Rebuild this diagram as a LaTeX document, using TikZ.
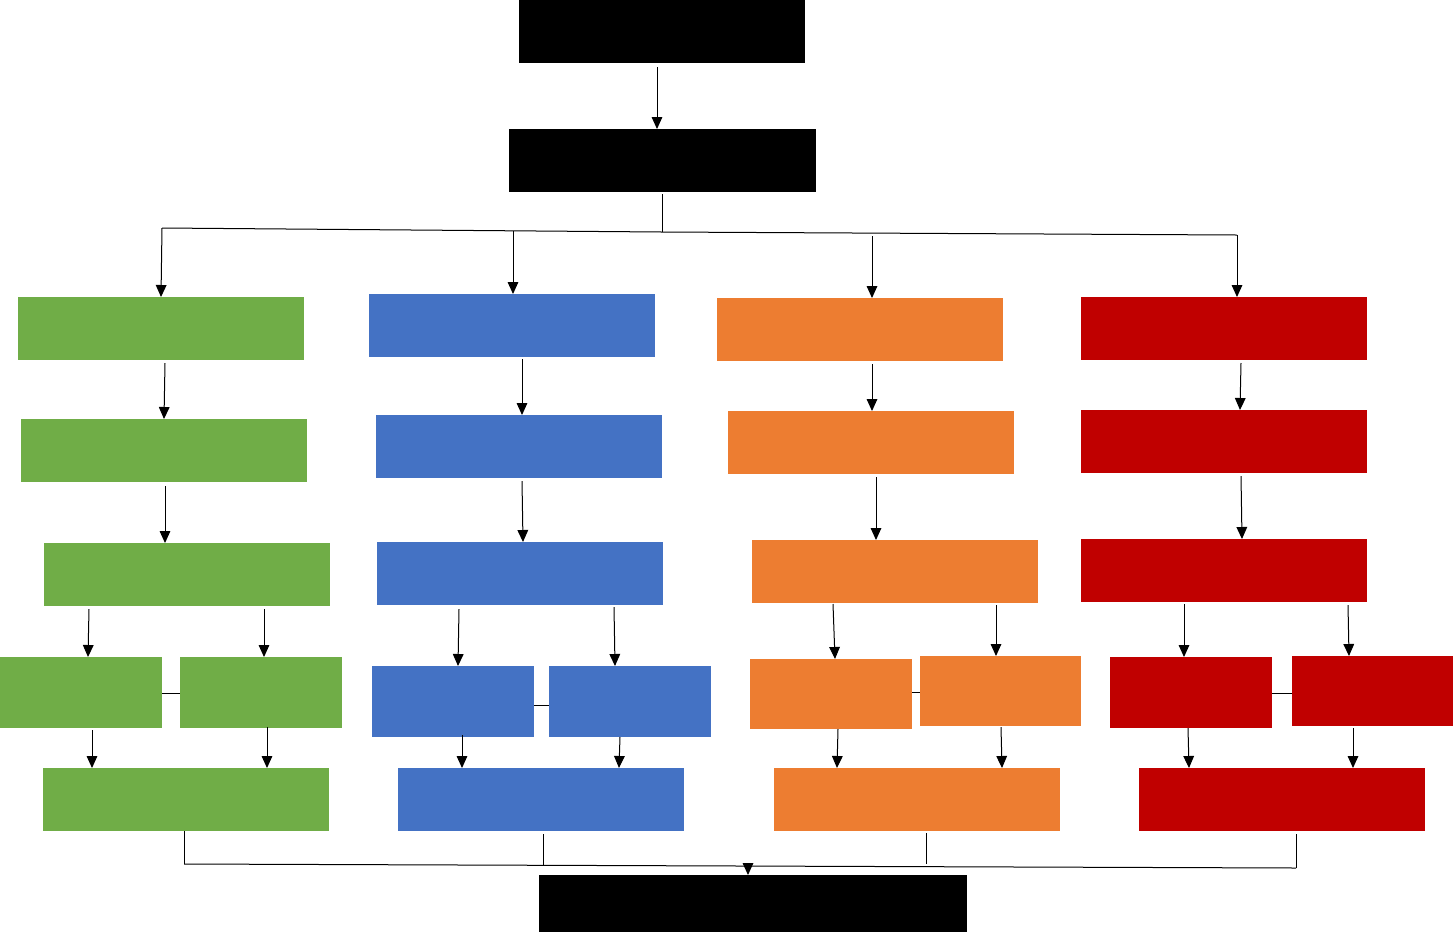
\documentclass[tikz,border=0pt]{standalone}
\usetikzlibrary{arrows.meta,fit}
\definecolor{cgreen}{RGB}{112,173,71}
\definecolor{cblue}{RGB}{68,114,196}
\definecolor{corange}{RGB}{237,125,49}
\definecolor{cred}{RGB}{192,0,0}
\tikzset{
  box/.style={inner sep=0pt, outer sep=0pt, draw=none},
  kbox/.style={box, fill=black},
  gbox/.style={box, fill=cgreen},
  bbox/.style={box, fill=cblue},
  obox/.style={box, fill=corange},
  rbox/.style={box, fill=cred},
  arr/.style={line width=0.75pt, -{Triangle[width=8pt,length=9pt]}},
  ln/.style={line width=0.75pt}
}
\begin{document}
\begin{tikzpicture}[x=0.75pt,y=-0.75pt]
\useasboundingbox (0,0) rectangle (1453,933);
% black
\node[kbox, fit={(519,0) (805,63)}] (k1) {};
\node[kbox, fit={(509,129) (816,192)}] (k2) {};
\node[kbox, fit={(539,875) (967,932)}] (k3) {};
% green
\node[gbox, fit={(18,297) (304,360)}] (g1) {};
\node[gbox, fit={(21,419) (307,482)}] (g2) {};
\node[gbox, fit={(44,543) (330,606)}] (g3) {};
\node[gbox, fit={(0,657) (162,728)}] (g4a) {};
\node[gbox, fit={(180,657) (342,728)}] (g4b) {};
\node[gbox, fit={(43,768) (329,831)}] (g5) {};
% blue
\node[bbox, fit={(369,294) (655,357)}] (b1) {};
\node[bbox, fit={(376,415) (662,478)}] (b2) {};
\node[bbox, fit={(377,542) (663,605)}] (b3) {};
\node[bbox, fit={(372,666) (534,737)}] (b4a) {};
\node[bbox, fit={(549,666) (711,737)}] (b4b) {};
\node[bbox, fit={(398,768) (684,831)}] (b5) {};
% orange
\node[obox, fit={(717,298) (1003,361)}] (o1) {};
\node[obox, fit={(728,411) (1014,474)}] (o2) {};
\node[obox, fit={(752,540) (1038,603)}] (o3) {};
\node[obox, fit={(750,659) (912,729)}] (o4a) {};
\node[obox, fit={(920,656) (1081,726)}] (o4b) {};
\node[obox, fit={(774,768) (1060,831)}] (o5) {};
% red
\node[rbox, fit={(1081,297) (1367,360)}] (r1) {};
\node[rbox, fit={(1081,410) (1367,473)}] (r2) {};
\node[rbox, fit={(1081,539) (1367,602)}] (r3) {};
\node[rbox, fit={(1110,657) (1272,728)}] (r4a) {};
\node[rbox, fit={(1292,656) (1453,726)}] (r4b) {};
\node[rbox, fit={(1139,768) (1425,831)}] (r5) {};

% top
\draw[arr] (657,67) -- (657,0 |- k2.north);
\draw[ln] (662,194) -- (662,232);
\coordinate (hl) at (162,228);
\coordinate (hr) at (1237,235);
\draw[ln] (hl) -- (662,232) -- (hr);
\draw[arr] (hl) -- (161,0 |- g1.north);
\draw[arr] (513,231) -- (513,0 |- b1.north);
\draw[arr] (872,236) -- (872,0 |- o1.north);
\draw[arr] (hr) -- (1237,0 |- r1.north);

% green arrows
\draw[arr] (165,363) -- (164,0 |- g2.north);
\draw[arr] (165,486) -- (165,0 |- g3.north);
\draw[arr] (89,609) -- (88,0 |- g4a.north);
\draw[arr] (264,609) -- (264,0 |- g4b.north);
\draw[arr] (92,730) -- (92,0 |- g5.north);
\draw[arr] (267,727) -- (267,0 |- g5.north);
\draw[ln] (g4a.east |- 0,693) -- (g4b.west |- 0,693);

% blue arrows
\draw[arr] (522,359) -- (522,0 |- b2.north);
\draw[arr] (522,481) -- (523,0 |- b3.north);
\draw[arr] (459,609) -- (458,0 |- b4a.north);
\draw[arr] (614,607) -- (615,0 |- b4b.north);
\draw[arr] (462,735) -- (462,0 |- b5.north);
\draw[arr] (620,737) -- (619,0 |- b5.north);
\draw[ln] (b4a.east |- 0,705) -- (b4b.west |- 0,705);

% orange arrows
\draw[arr] (872,364) -- (872,0 |- o2.north);
\draw[arr] (876,477) -- (876,0 |- o3.north);
\draw[arr] (833,604) -- (835,0 |- o4a.north);
\draw[arr] (996,605) -- (996,0 |- o4b.north);
\draw[arr] (838,729) -- (837,0 |- o5.north);
\draw[arr] (1001,727) -- (1002,0 |- o5.north);
\draw[ln] (o4a.east |- 0,692) -- (o4b.west |- 0,692);

% red arrows
\draw[arr] (1241,363) -- (1240,0 |- r2.north);
\draw[arr] (1241,476) -- (1242,0 |- r3.north);
\draw[arr] (1184,604) -- (1184,0 |- r4a.north);
\draw[arr] (1348,605) -- (1349,0 |- r4b.north);
\draw[arr] (1188,728) -- (1189,0 |- r5.north);
\draw[arr] (1353,728) -- (1353,0 |- r5.north);
\draw[ln] (r4a.east |- 0,693) -- (r4b.west |- 0,693);

% bottom collector
\coordinate (bl) at (184,864);
\coordinate (br) at (1296,868);
\draw[ln] (184,0 |- g5.south) -- (bl);
\draw[ln] (543,834) -- (543,865);
\draw[ln] (926,833) -- (926,864);
\draw[ln] (1296,834) -- (br);
\draw[ln] (bl) -- (br);
\draw[arr] (748,865) -- (748,0 |- k3.north);
\end{tikzpicture}
\end{document}
